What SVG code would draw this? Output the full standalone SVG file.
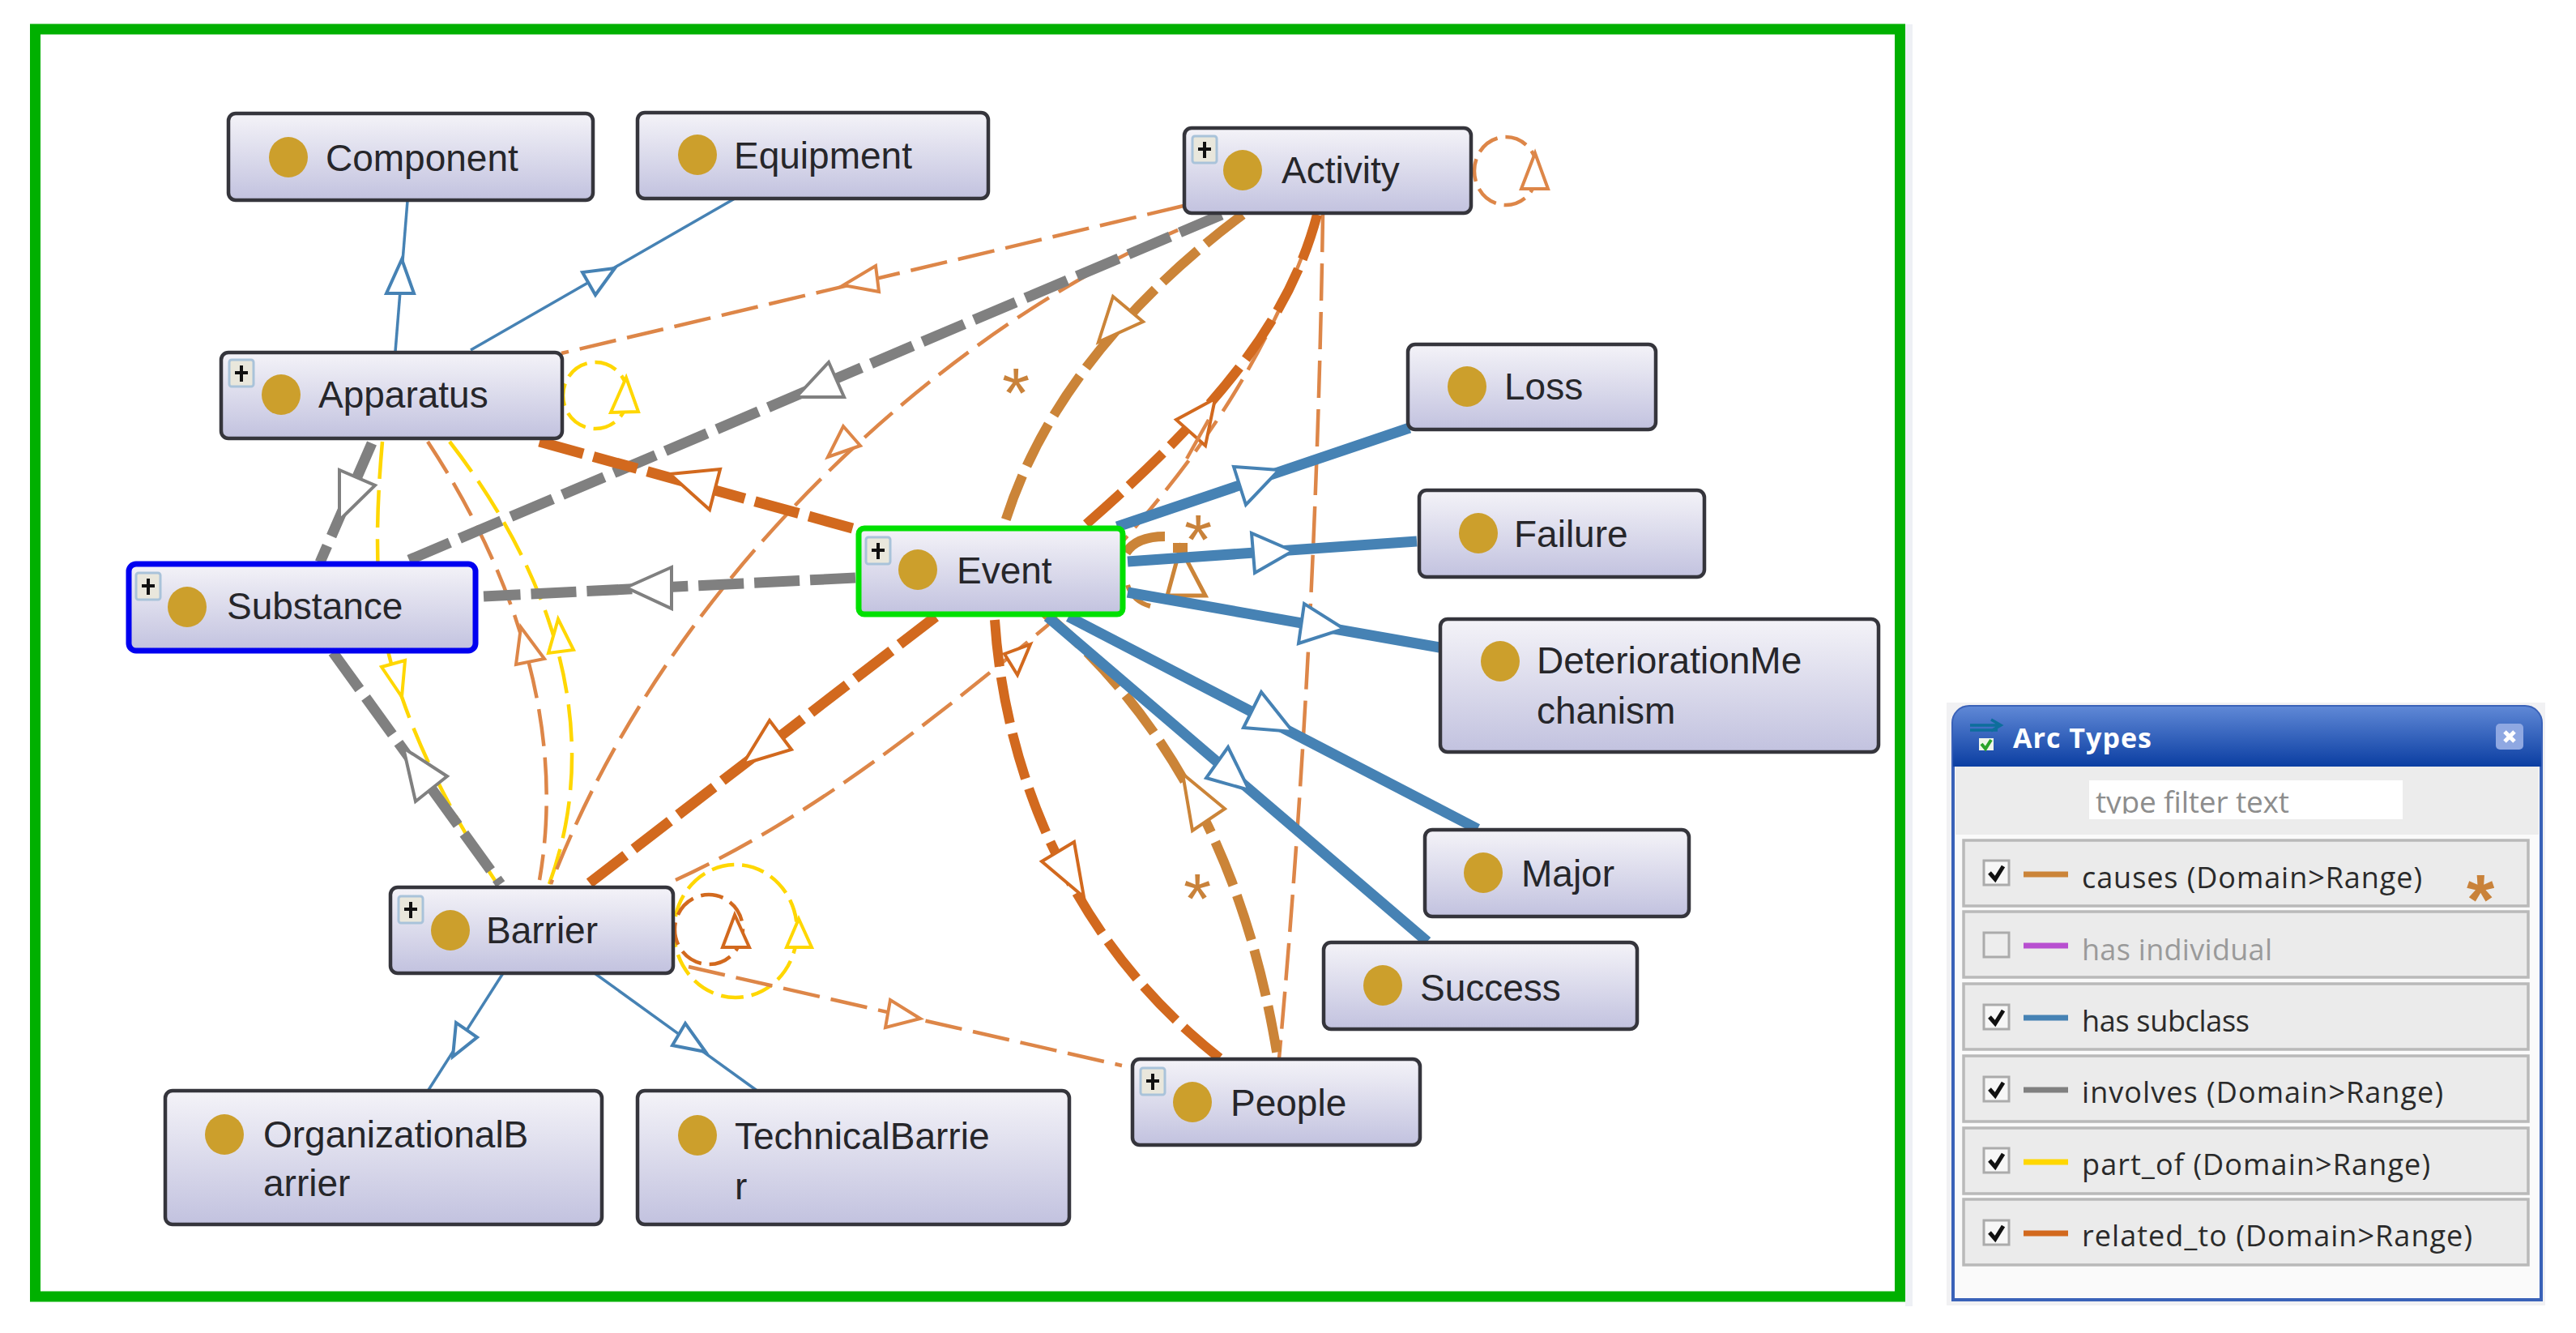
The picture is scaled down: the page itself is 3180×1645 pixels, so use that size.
<svg xmlns="http://www.w3.org/2000/svg" width="3180" height="1645" viewBox="0 0 3180 1645">
<style>
.edge{fill:none}
.head{fill:#fff;stroke-width:4;stroke-linejoin:miter}
.blue{stroke:#4682b4}
.grey{stroke:#808080}
.tan{stroke:#cb8438}
.rel{stroke:#d2691e}
.thin{stroke:#dd8648}
.yel{stroke:#ffd700}
.w3{stroke-width:3.5}
.w4{stroke-width:4.5;stroke-dasharray:46 14}
.loop{stroke-width:4.5;stroke-dasharray:28 10}
.w12{stroke-width:13}
.w11{stroke-width:13;stroke-dasharray:56 13}
.w9{stroke-width:12;stroke-dasharray:58 13}
.box{fill:url(#nodeFill);stroke:#35353c;stroke-width:4.5}
.dot{fill:#cc9f2c}
.lbl{font-family:"Liberation Sans",Arial,sans-serif;font-size:46px;fill:#26262a}
.star{font-family:"Liberation Sans",Arial,sans-serif;font-size:88px;fill:#c9823a;text-anchor:middle}
.row{fill:#ebebeb;stroke:#b9b9b9;stroke-width:3.5}
.tick{fill:#f7f7f7;stroke:#ababab;stroke-width:3}
.chk{fill:none;stroke:#111;stroke-width:5}
.arc{font-family:"Open Sans","Noto Sans",sans-serif;font-size:36px;fill:#2a2a2a}
</style>
<defs>
<linearGradient id="nodeFill" x1="0" y1="0" x2="0" y2="1"><stop offset="0" stop-color="#f4f3f8"/><stop offset="1" stop-color="#c2c2df"/></linearGradient>
<linearGradient id="titleFill" x1="0" y1="0" x2="0" y2="1"><stop offset="0" stop-color="#5f88d6"/><stop offset="1" stop-color="#0b3ea2"/></linearGradient>
<clipPath id="filterClip"><rect x="2579" y="963" width="387" height="41"/></clipPath>
<g id="expander"><rect x="0" y="0" width="30" height="33" rx="3" fill="#e9e7dc" stroke="#a9c3da" stroke-width="3"/><path d="M15,7V27M7,16H23" stroke="#111" stroke-width="4" fill="none"/></g>
</defs>
<rect width="3180" height="1645" fill="#fff"/>
<rect x="2352" y="30" width="9" height="1582" fill="#eef0f5"/>
<rect x="43.5" y="36" width="2302" height="1564" fill="#fff" stroke="#00b000" stroke-width="13"/>

<g id="connectors">
<!-- part_of -->
<path class="edge yel w4" d="M555,545C660,680 755,880 678,1091"/>
<path class="edge yel w4" d="M472,545C460,680 465,780 496,860C520,930 560,1010 612,1088"/>
<ellipse class="edge yel loop" cx="735" cy="488" rx="40" ry="41"/>
<ellipse class="edge yel loop" cx="908" cy="1149" rx="76" ry="82"/>
<!-- thin dashed relations -->
<path class="edge thin w4" d="M1461,254L693,436"/>
<path class="edge thin w4" d="M1510,262C1218,365 837,680 680,1091"/>
<path class="edge thin w4" d="M528,545C630,700 700,890 666,1086"/>
<path class="edge thin w4" d="M1633,265Q1625,800 1579,1306"/>
<path class="edge thin w4" d="M850,1193L1385,1315"/>
<path class="edge thin w4" d="M834,1086C1000,1010 1150,890 1293,772C1400,650 1540,520 1626,265"/>
<ellipse class="edge thin loop" cx="1859" cy="211" rx="39" ry="42"/>
<ellipse class="edge rel loop" cx="875" cy="1147" rx="42" ry="43"/>
<!-- causes: loop on Event sits under the subclass lines -->
<path class="edge tan" d="M1390,682Q1403,662 1438,662" stroke-width="12"/>
<path class="edge tan" d="M1392,722Q1398,742 1420,748" stroke-width="6"/>
<polygon class="head tan" points="1457,676 1441,735 1488,735" style="stroke-width:5"/>
<path class="edge tan" d="M1448,676H1466" stroke-width="12"/>
<!-- has subclass -->
<path class="edge blue w3" d="M503,248L488,434"/>
<path class="edge blue w3" d="M907,245L581,432"/>
<path class="edge blue w3" d="M621,1201L529,1345"/>
<path class="edge blue w3" d="M734,1201L936,1347"/>
<!-- involves -->
<path class="edge grey w11" d="M1508,265L505,691"/>
<path class="edge grey w11" d="M459,547L395,694"/>
<path class="edge grey w11" d="M1056,713L597,736"/>
<path class="edge grey w11" d="M411,805L618,1091"/>
<!-- causes -->
<path class="edge tan w9" d="M1534,265C1420,350 1290,480 1239,650"/>
<path class="edge tan w9" d="M1290,757C1400,850 1530,1010 1577,1304"/>
<!-- related_to -->
<path class="edge rel w11" d="M666,545L1056,653"/>
<path class="edge rel w11" d="M1155,761L726,1091"/>
<path class="edge rel w9" d="M1626,265C1590,400 1500,510 1320,665"/>
<path class="edge rel w9" d="M1228,765C1240,950 1320,1160 1506,1306"/>
<!-- has subclass, heavy -->
<path class="edge blue w12" d="M1379,650L1740,528"/>
<path class="edge blue w12" d="M1392,693L1749,668"/>
<path class="edge blue w12" d="M1392,731L1777,799"/>
<path class="edge blue w12" d="M1319,761L1824,1023"/>
<path class="edge blue w12" d="M1293,761L1762,1162"/>
<!-- arrowheads -->
<polygon class="head blue" points="496,320 477,362 511,362"/>
<polygon class="head blue" points="759,331 719,336 735,364"/>
<polygon class="head blue" points="559,1304 563,1262 589,1280"/>
<polygon class="head blue" points="871,1298 846,1263 830,1290"/>
<polygon class="head blue" points="1579,580 1523,576 1538,623"/>
<polygon class="head blue" points="1596,680 1545,658 1549,707"/>
<polygon class="head blue" points="1659,776 1610,745 1603,794"/>
<polygon class="head blue" points="1596,903 1557,854 1535,898"/>
<polygon class="head blue" points="1542,975 1516,922 1489,960"/>
<polygon class="head grey" points="983,490 1023,447 1042,490"/>
<polygon class="head grey" points="419,642 419,580 463,599"/>
<polygon class="head grey" points="773,725 829,700 829,751"/>
<polygon class="head grey" points="498,923 552,958 513,989"/>
<polygon class="head rel" points="827,585 889,579 876,629"/>
<polygon class="head rel" points="917,943 950,889 977,925"/>
<polygon class="head rel" points="1500,492 1452,518 1488,550"/>
<path class="edge thin" d="M1492,518L1465,566" stroke-width="4.5"/>
<polygon class="head rel" points="1338,1107 1326,1039 1286,1063"/>
<polygon class="head tan" points="1356,422 1374,366 1411,397"/>
<polygon class="head tan" points="1460,955 1512,998 1472,1025"/>
<polygon class="head thin" points="1041,352 1081,328 1085,360"/>
<polygon class="head thin" points="1022,564 1041,526 1062,550"/>
<polygon class="head thin" points="643,774 672,813 637,820"/>
<polygon class="head yel" points="689,764 708,802 677,806"/>
<polygon class="head yel" points="496,860 471,823 500,815"/>
<polygon class="head thin" points="1136,1257 1099,1234 1093,1268"/>
<polygon class="head rel" points="1272,795 1240,807 1256,833"/>
<polygon class="head yel" points="773,466 754,509 788,508"/>
<polygon class="head thin" points="1895,189 1878,233 1911,233"/>
<polygon class="head yel" points="986,1134 971,1169 1002,1169"/>
<polygon class="head rel" points="907,1129 892,1169 925,1169"/>
</g>

<g id="node-component"><rect class="box" x="282" y="140" width="450" height="107" rx="9"/><ellipse class="dot" cx="356" cy="194" rx="24" ry="25"/><text class="lbl" x="402" y="211">Component</text></g>
<g id="node-equipment"><rect class="box" x="787" y="139" width="433" height="106" rx="9"/><ellipse class="dot" cx="861" cy="191" rx="24" ry="25"/><text class="lbl" x="906" y="208">Equipment</text></g>
<g id="node-apparatus"><rect class="box" x="273" y="435" width="421" height="106" rx="9"/><use href="#expander" x="283" y="444"/><ellipse class="dot" cx="347" cy="487" rx="24" ry="25"/><text class="lbl" x="393" y="503">Apparatus</text></g>
<g id="node-substance"><rect class="box" x="159" y="696" width="428" height="107" rx="9" style="stroke:#0000f0;stroke-width:7"/><use href="#expander" x="168" y="707"/><ellipse class="dot" cx="231" cy="749" rx="24" ry="25"/><text class="lbl" x="280" y="764">Substance</text></g>
<g id="node-event"><rect class="box" x="1060" y="652" width="326" height="106" rx="7" style="stroke:#00e000;stroke-width:7"/><use href="#expander" x="1069" y="663"/><ellipse class="dot" cx="1133" cy="703" rx="24" ry="25"/><text class="lbl" x="1181" y="720">Event</text></g>
<g id="node-activity"><rect class="box" x="1462" y="158" width="354" height="105" rx="9"/><use href="#expander" x="1472" y="168"/><ellipse class="dot" cx="1534" cy="210" rx="24" ry="25"/><text class="lbl" x="1582" y="226">Activity</text></g>
<g id="node-loss"><rect class="box" x="1738" y="425" width="306" height="105" rx="9"/><ellipse class="dot" cx="1811" cy="477" rx="24" ry="25"/><text class="lbl" x="1857" y="493">Loss</text></g>
<g id="node-failure"><rect class="box" x="1752" y="605" width="352" height="107" rx="9"/><ellipse class="dot" cx="1825" cy="658" rx="24" ry="25"/><text class="lbl" x="1869" y="675">Failure</text></g>
<g id="node-deterioration"><rect class="box" x="1778" y="764" width="541" height="164" rx="9"/><ellipse class="dot" cx="1852" cy="816" rx="24" ry="25"/><text class="lbl" x="1897" y="831">DeteriorationMe</text><text class="lbl" x="1897" y="893">chanism</text></g>
<g id="node-major"><rect class="box" x="1759" y="1024" width="326" height="107" rx="9"/><ellipse class="dot" cx="1831" cy="1077" rx="24" ry="25"/><text class="lbl" x="1878" y="1094">Major</text></g>
<g id="node-success"><rect class="box" x="1634" y="1163" width="387" height="107" rx="9"/><ellipse class="dot" cx="1707" cy="1216" rx="24" ry="25"/><text class="lbl" x="1753" y="1235">Success</text></g>
<g id="node-people"><rect class="box" x="1398" y="1307" width="355" height="106" rx="9"/><use href="#expander" x="1408" y="1318"/><ellipse class="dot" cx="1472" cy="1360" rx="24" ry="25"/><text class="lbl" x="1519" y="1377">People</text></g>
<g id="node-barrier"><rect class="box" x="482" y="1095" width="349" height="106" rx="9"/><use href="#expander" x="492" y="1106"/><ellipse class="dot" cx="556" cy="1148" rx="24" ry="25"/><text class="lbl" x="600" y="1164">Barrier</text></g>
<g id="node-organizational"><rect class="box" x="204" y="1346" width="539" height="165" rx="9"/><ellipse class="dot" cx="277" cy="1400" rx="24" ry="25"/><text class="lbl" x="325" y="1416">OrganizationalB</text><text class="lbl" x="325" y="1476">arrier</text></g>
<g id="node-technical"><rect class="box" x="787" y="1346" width="533" height="165" rx="9"/><ellipse class="dot" cx="861" cy="1401" rx="24" ry="25"/><text class="lbl" x="907" y="1418">TechnicalBarrie</text><text class="lbl" x="907" y="1480">r</text></g>

<text class="star" x="1254" y="515">*</text>
<text class="star" x="1479" y="696">*</text>
<text class="star" x="1478" y="1139">*</text>

<g id="arc-types-panel">
<rect x="2403" y="867" width="739" height="744" fill="#f1f1f3"/>
<path d="M2411,1604V892a20,20 0 0 1 20,-20H3117a20,20 0 0 1 20,20V1604Z" fill="#fafafa" stroke="#3a62b8" stroke-width="4"/>
<rect x="2414" y="946" width="720" height="84" fill="#ececec"/>
<path d="M2411,946V892a20,20 0 0 1 20,-20H3117a20,20 0 0 1 20,20V946Z" fill="url(#titleFill)"/>
<path d="M2432,895H2468M2458,888L2470,895L2458,902M2432,901H2466" fill="none" stroke="#0d6e9c" stroke-width="3.5"/>
<rect x="2443" y="911" width="18" height="15" fill="#eef5ea"/>
<path d="M2446,918L2451,924L2458,913" fill="none" stroke="#2aa32a" stroke-width="4"/>
<text x="2485" y="923" font-family="'Open Sans','Noto Sans',sans-serif" font-size="34" font-weight="700" fill="#fff" textLength="171">Arc Types</text>
<rect x="3081" y="893" width="34" height="32" rx="5" fill="#8fa8e2"/>
<path d="M3092,903L3104,915M3104,903L3092,915" stroke="#fff" stroke-width="5"/>
<rect x="2579" y="963" width="387" height="48" fill="#fff"/>
<text x="2587" y="1003" clip-path="url(#filterClip)" font-family="'Open Sans','Noto Sans',sans-serif" font-size="37" fill="#8d8d8d" textLength="239">type filter text</text>

<g id="row-causes"><rect class="row" x="2424" y="1037" width="697" height="81"/><rect class="tick" x="2449" y="1062" width="31" height="30"/><path class="chk" d="M2456,1077L2463,1085L2473,1069"/><path d="M2498,1079H2553" stroke="#cb8438" stroke-width="7"/><text class="arc" x="2570" y="1096" textLength="420">causes (Domain&gt;Range)</text></g>
<g id="row-individual"><rect class="row" x="2424" y="1125" width="697" height="81"/><rect class="tick" x="2449" y="1151" width="31" height="30" style="fill:#ededed"/><path d="M2498,1167H2553" stroke="#b84fd0" stroke-width="7"/><text class="arc" x="2570" y="1185" textLength="235" style="fill:#9a9a9a">has individual</text></g>
<g id="row-subclass"><rect class="row" x="2424" y="1214" width="697" height="81"/><rect class="tick" x="2449" y="1240" width="31" height="30"/><path class="chk" d="M2456,1255L2463,1263L2473,1247"/><path d="M2498,1256H2553" stroke="#4682b4" stroke-width="7"/><text class="arc" x="2570" y="1273" textLength="207">has subclass</text></g>
<g id="row-involves"><rect class="row" x="2424" y="1303" width="697" height="81"/><rect class="tick" x="2449" y="1329" width="31" height="30"/><path class="chk" d="M2456,1344L2463,1352L2473,1336"/><path d="M2498,1345H2553" stroke="#808080" stroke-width="7"/><text class="arc" x="2570" y="1361" textLength="446">involves (Domain&gt;Range)</text></g>
<g id="row-part-of"><rect class="row" x="2424" y="1392" width="697" height="81"/><rect class="tick" x="2449" y="1417" width="31" height="30"/><path class="chk" d="M2456,1432L2463,1440L2473,1424"/><path d="M2498,1434H2553" stroke="#ffd700" stroke-width="7"/><text class="arc" x="2570" y="1450" textLength="430">part_of (Domain&gt;Range)</text></g>
<g id="row-related"><rect class="row" x="2424" y="1480" width="697" height="81"/><rect class="tick" x="2449" y="1506" width="31" height="30"/><path class="chk" d="M2456,1521L2463,1529L2473,1513"/><path d="M2498,1522H2553" stroke="#d2691e" stroke-width="7"/><text class="arc" x="2570" y="1538" textLength="482">related_to (Domain&gt;Range)</text></g>
<text class="star" x="3062" y="1140" style="font-weight:700">*</text>
</g>
</svg>
